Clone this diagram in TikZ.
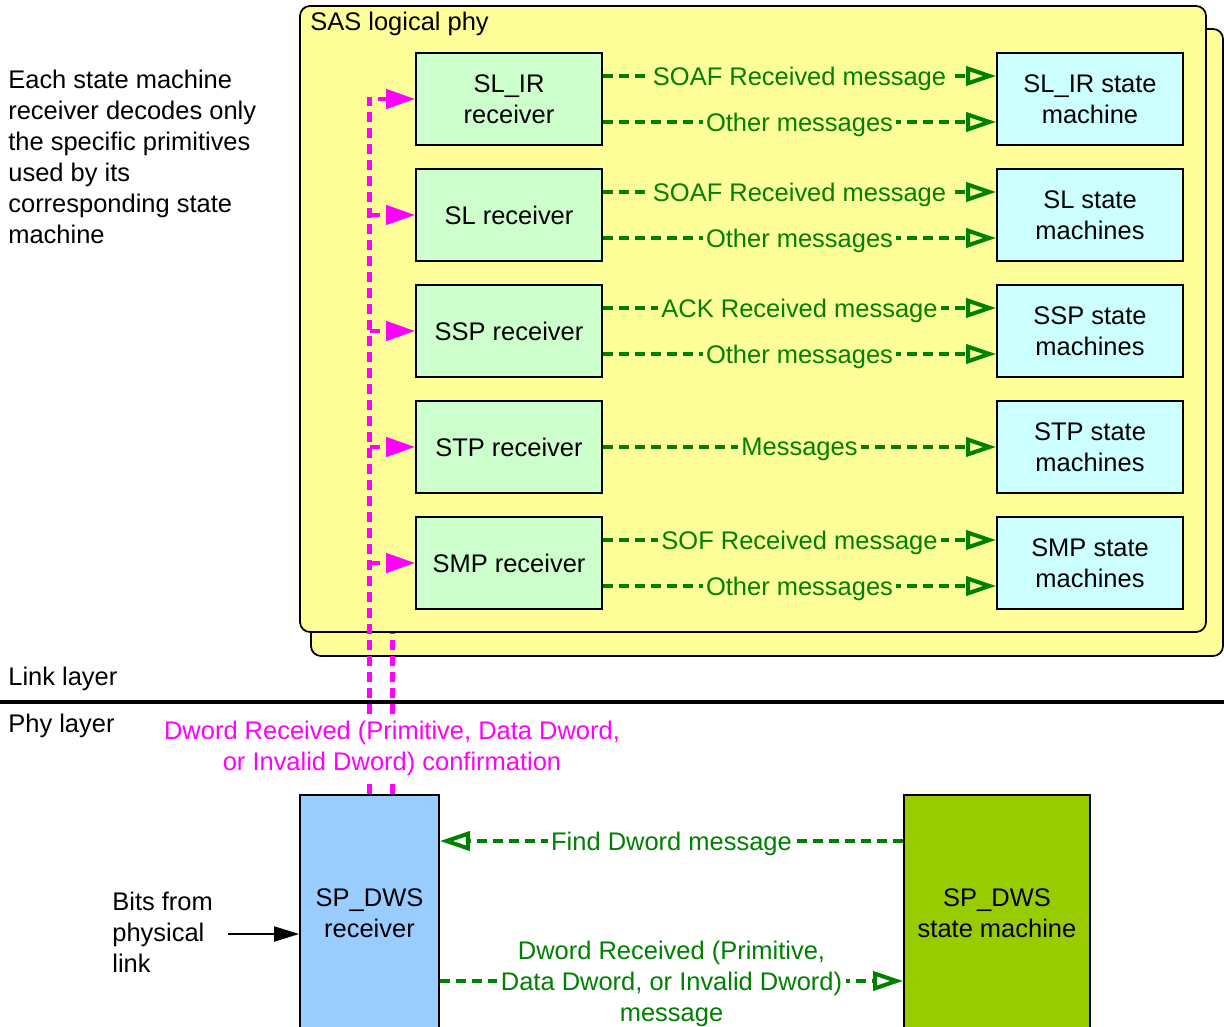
\documentclass[tikz,border=0pt]{standalone}
\usepackage{fontspec}
\setmainfont{Liberation Sans}
\usetikzlibrary{arrows.meta,calc}
\definecolor{phyyellow}{RGB}{255,255,153}
\definecolor{rxgreen}{RGB}{204,255,204}
\definecolor{smcyan}{RGB}{204,255,255}
\definecolor{dwsblue}{RGB}{153,204,255}
\definecolor{dwsgreen}{RGB}{153,204,0}
\definecolor{msggreen}{RGB}{0,128,0}
\definecolor{confpink}{RGB}{255,0,255}

\begin{document}
\begin{tikzpicture}[x=0.02cm, y=-0.02cm, font=\fontsize{14.5}{17.6}\selectfont,
  rxbox/.style={draw, line width=1pt, fill=rxgreen, minimum width=3.72cm, minimum height=1.84cm, align=center, inner sep=0pt},
  smbox/.style={rxbox, fill=smcyan},
  dwsbox/.style={draw, line width=1pt, minimum height=4.72cm, align=center, inner sep=0pt},
  msg/.style={draw=msggreen, line width=2.3pt, dash pattern=on 0.2cm off 0.12cm, -{Triangle[open, length=0.6cm, width=0.38cm]}},
  msgtxt/.style={text=msggreen, fill=phyyellow, inner sep=2pt, align=center, yshift=-0.05cm},
  conf/.style={draw=confpink, line width=2.5pt, dash pattern=on 0.2cm off 0.12cm},
  confarrow/.style={conf, -{Triangle[length=0.58cm, width=0.38cm]}}]
\useasboundingbox (0,0) rectangle (1224,1027);

\node[anchor=north west, align=left, inner sep=0pt] (note) at (8,70) {Each state machine\\receiver decodes only\\the specific primitives\\used by its\\corresponding state\\machine};

\node[dwsbox, fill=dwsblue, minimum width=2.78cm] (dwsrx) at (369.5,913) {SP\_DWS\\receiver};
\node[dwsbox, fill=dwsgreen, minimum width=3.72cm] (dwssm) at (997,913) {SP\_DWS\\state machine};

\draw[fill=phyyellow, line width=1pt, rounded corners=0.2cm] (311,29) rectangle (1223,656);
\draw[conf] ($(dwsrx.north)+(23,0)$) -- ++(0,-170);
\draw[fill=phyyellow, line width=1pt, rounded corners=0.2cm] (300,6) rectangle (1206,632);
\node[anchor=base west, inner sep=0pt] (saslbl) at (310,31) {SAS logical phy};

\node[rxbox] (slirrx) at (509,99) {SL\_IR\\receiver};
\node[rxbox] (slrx) at (509,215) {SL receiver};
\node[rxbox] (ssprx) at (509,331) {SSP receiver};
\node[rxbox] (stprx) at (509,447) {STP receiver};
\node[rxbox] (smprx) at (509,563) {SMP receiver};

\node[smbox] (slirsm) at (1090,99) {SL\_IR state\\machine};
\node[smbox] (slsm) at (1090,215) {SL state\\machines};
\node[smbox] (sspsm) at (1090,331) {SSP state\\machines};
\node[smbox] (stpsm) at (1090,447) {STP state\\machines};
\node[smbox] (smpsm) at (1090,563) {SMP state\\machines};

\draw[msg] ([yshift=0.46cm]slirrx.east) -- node[msgtxt]{SOAF Received message} ([yshift=0.46cm]slirsm.west);
\draw[msg] ([yshift=-0.46cm]slirrx.east) -- node[msgtxt]{Other messages} ([yshift=-0.46cm]slirsm.west);
\draw[msg] ([yshift=0.46cm]slrx.east) -- node[msgtxt]{SOAF Received message} ([yshift=0.46cm]slsm.west);
\draw[msg] ([yshift=-0.46cm]slrx.east) -- node[msgtxt]{Other messages} ([yshift=-0.46cm]slsm.west);
\draw[msg] ([yshift=0.46cm]ssprx.east) -- node[msgtxt]{ACK Received message} ([yshift=0.46cm]sspsm.west);
\draw[msg] ([yshift=-0.46cm]ssprx.east) -- node[msgtxt]{Other messages} ([yshift=-0.46cm]sspsm.west);
\draw[msg] (stprx.east) -- node[msgtxt]{Messages} (stpsm.west);
\draw[msg] ([yshift=0.46cm]smprx.east) -- node[msgtxt]{SOF Received message} ([yshift=0.46cm]smpsm.west);
\draw[msg] ([yshift=-0.46cm]smprx.east) -- node[msgtxt]{Other messages} ([yshift=-0.46cm]smpsm.west);

\draw[confarrow] (dwsrx.north) -- (dwsrx.north |- slirrx.west) -- (slirrx.west);
\draw[confarrow] (dwsrx.north |- slrx.west) -- (slrx.west);
\draw[confarrow] (dwsrx.north |- ssprx.west) -- (ssprx.west);
\draw[confarrow] (dwsrx.north |- stprx.west) -- (stprx.west);
\draw[confarrow] (dwsrx.north |- smprx.west) -- (smprx.west);

\draw[line width=2.8pt] (0,702) -- (1224,702);
\node[anchor=base west, inner sep=0pt] (linklbl) at (8,685) {Link layer};
\node[anchor=base west, inner sep=0pt] (phylbl) at (8,732) {Phy layer};
\node[text=confpink, fill=white, align=center, inner xsep=1pt, inner ysep=3pt] (conftxt) at (392,748) {Dword Received (Primitive, Data Dword,\\or Invalid Dword) confirmation};

\node[anchor=west, align=left, inner sep=0pt] (bits) at (112,932) {Bits from\\physical\\link};
\coordinate (bitsin) at (228,934);
\draw[line width=1pt, -{Triangle[length=0.5cm, width=0.3cm]}] (bitsin) -- (dwsrx.west |- bitsin);

\draw[msg] ([yshift=1.44cm]dwssm.west) -- node[msgtxt, fill=white]{Find Dword message} ([yshift=1.44cm]dwsrx.east);
\draw[msg] ([yshift=-1.36cm]dwsrx.east) -- node[msgtxt, fill=white]{Dword Received (Primitive,\\Data Dword, or Invalid Dword)\\message} ([yshift=-1.36cm]dwssm.west);
\end{tikzpicture}
\end{document}
